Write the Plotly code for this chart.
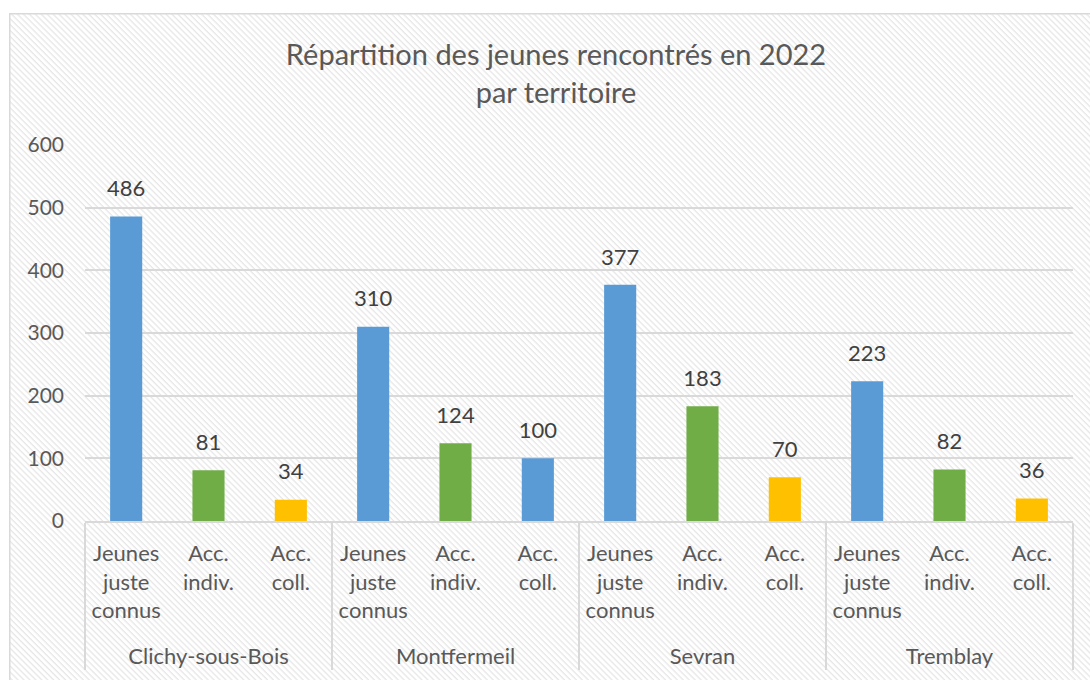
import base64
import plotly.graph_objects as go

territories = ["Clichy-sous-Bois", "Montfermeil", "Sevran", "Tremblay"]
sub_labels = ["Jeunes<br>juste<br>connus<br> ", "Acc.<br>indiv.", "Acc.<br>coll."]
values = [
    [486, 81, 34],
    [310, 124, 100],
    [377, 183, 70],
    [223, 82, 36],
]
bar_colors = [
    ["#5B9BD5", "#70AD47", "#FFC000"],
    ["#5B9BD5", "#70AD47", "#5B9BD5"],
    ["#5B9BD5", "#70AD47", "#FFC000"],
    ["#5B9BD5", "#70AD47", "#FFC000"],
]
title_text = "Répartition des jeunes rencontrés en 2022<br>par territoire"
y_ticks = [0, 100, 200, 300, 400, 500, 600]

xg, xs, ys, cs = [], [], [], []
for t, vals, cols in zip(territories, values, bar_colors):
    for s, v, c in zip(sub_labels, vals, cols):
        xg.append(t)
        xs.append(s)
        ys.append(v)
        cs.append(c)

FONT = "Lato"
fig = go.Figure()
fig.add_trace(go.Bar(x=[xg, xs], y=ys, marker=dict(color=cs, line=dict(width=0)),
                     hoverinfo="y", showlegend=False))
fig.add_trace(go.Scatter(x=[xg, xs], y=ys, mode="markers+text", text=[str(v) for v in ys],
                         textposition="top center",
                         marker=dict(size=22, color="rgba(0,0,0,0)"),
                         textfont=dict(family=FONT, size=22, color="#404040"),
                         hoverinfo="skip", showlegend=False, cliponaxis=False))

W, H = 1090, 680
L, R, T, B = 85, 17, 145, 159
pw, ph = W - L - R, H - T - B
bx0, by0 = 9, 13
bw, bh = 1090, 680
svg = (f"<svg xmlns='http://www.w3.org/2000/svg' width='{bw}' height='{bh}'>"
       "<defs><pattern id='p' width='4.2' height='4.2' patternUnits='userSpaceOnUse' patternTransform='rotate(-45)'>"
       "<rect width='4.2' height='4.2' fill='#ffffff'/>"
       "<line x1='1' y1='0' x2='1' y2='4.2' stroke='#e3e3e3' stroke-width='1.1'/></pattern></defs>"
       f"<rect x='0' y='0' width='{bw}' height='{bh}' fill='url(#p)'/>"
       f"<rect x='0.75' y='0.75' width='{bw+10}' height='{bh+10}' fill='none' stroke='#d9d9d9' stroke-width='1.5'/>"
       "</svg>")
src = "data:image/svg+xml;base64," + base64.b64encode(svg.encode()).decode()

fig.add_layout_image(dict(source=src, xref="paper", yref="paper",
                          x=(bx0 - L) / pw, y=(H - B - by0) / ph,
                          sizex=bw / pw, sizey=bh / ph,
                          xanchor="left", yanchor="top", sizing="stretch", layer="below"))

fig.update_layout(
    width=W, height=H,
    margin=dict(l=L, r=R, t=T, b=B, autoexpand=False),
    paper_bgcolor="white", plot_bgcolor="rgba(0,0,0,0)",
    bargap=0.61,
    font=dict(family=FONT, color="#595959", size=22),
    title=dict(text=title_text, x=556 / W, xref="container", xanchor="center",
               y=1 - 65 / H, yref="container", yanchor="top",
               font=dict(family=FONT, size=29, color="#595959")),
    xaxis=dict(type="multicategory", range=[-0.5, 11.5], showline=True, linecolor="#d9d9d9",
               linewidth=1.5, ticks="", showgrid=False, showdividers=True,
               dividercolor="#d9d9d9", dividerwidth=1.5, ticklabelstandoff=12,
               tickfont=dict(family=FONT, size=22, color="#595959")),
    yaxis=dict(range=[0, 600], tickvals=y_ticks, showgrid=True, gridcolor="#d9d9d9",
               gridwidth=1.5, zeroline=False, showline=False, ticks="",
               ticklabelstandoff=20,
               tickfont=dict(family=FONT, size=21, color="#595959")),
)

fig.write_html("out.html", config={"displayModeBar": False},
               post_script="document.body.style.margin='0';")
